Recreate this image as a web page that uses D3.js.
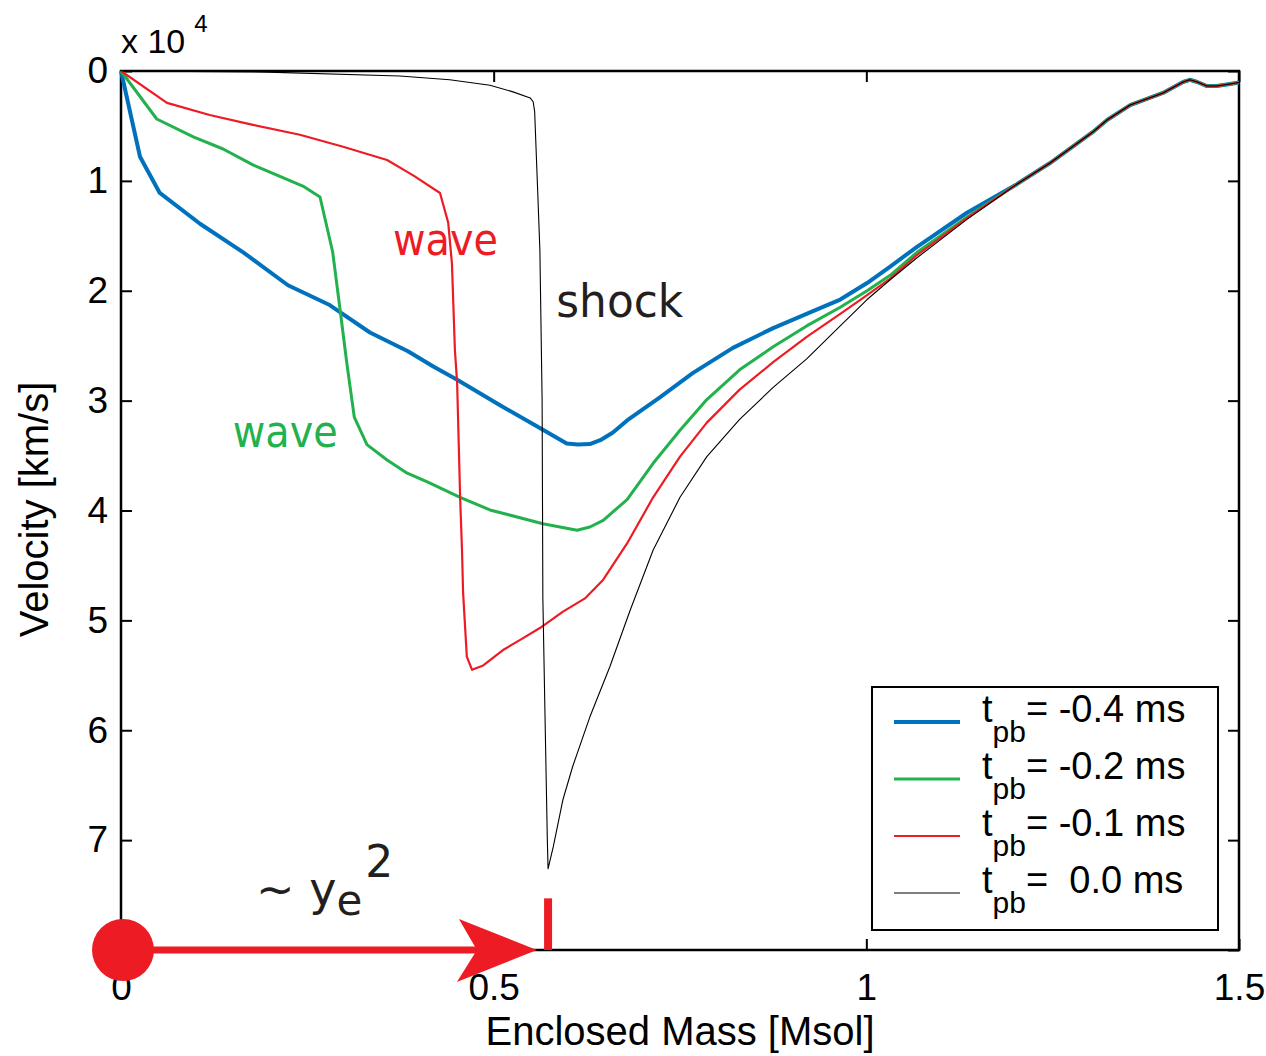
<!DOCTYPE html>
<html>
<head>
<meta charset="utf-8">
<script src="https://cdn.jsdelivr.net/npm/d3@7"></script>
<style>
  body { margin: 0; background: #fff; }
  text { font-family: "Liberation Sans", Arial, sans-serif; }
  .hand { font-family: "Comic Sans MS", "DejaVu Sans", sans-serif; }
</style>
</head>
<body>
<div id="chart"></div>
<script>
// velocity profiles, x = enclosed mass [Msol], y = -velocity [1e4 km/s]
const blueCurve = [[0,0],[0.0255,0.78],[0.052,1.11],[0.106,1.39],[0.164,1.65],[0.224,1.95],[0.280,2.13],
  [0.334,2.38],[0.385,2.55],[0.419,2.69],[0.451,2.81],[0.508,3.04],[0.562,3.25],[0.598,3.39],[0.613,3.40],
  [0.629,3.395],[0.643,3.36],[0.660,3.29],[0.679,3.18],[0.723,2.97],[0.767,2.75],[0.821,2.52],[0.875,2.34],
  [0.934,2.17],[0.965,2.08],[1.001,1.93],[1.032,1.78],[1.068,1.60],[1.135,1.29]];
const greenCurve = [[0,0],[0.048,0.437],[0.097,0.60],[0.137,0.71],[0.177,0.855],[0.244,1.047],[0.267,1.147],
  [0.284,1.647],[0.294,2.175],[0.303,2.66],[0.313,3.15],[0.330,3.40],[0.357,3.54],[0.384,3.66],[0.411,3.74],
  [0.455,3.88],[0.495,3.995],[0.566,4.12],[0.612,4.18],[0.629,4.15],[0.647,4.09],[0.679,3.90],[0.714,3.57],
  [0.750,3.27],[0.786,2.99],[0.830,2.72],[0.875,2.51],[0.920,2.32],[0.965,2.15],[1.001,2.00],[1.032,1.86],
  [1.068,1.65],[1.135,1.33]];
const redCurve = [[0,0],[0.0617,0.29],[0.119,0.40],[0.177,0.49],[0.240,0.58],[0.298,0.69],[0.357,0.81],
  [0.392,0.95],[0.428,1.11],[0.439,1.38],[0.444,1.75],[0.448,2.54],[0.451,2.84],[0.455,3.88],[0.4575,4.36],
  [0.459,4.75],[0.464,5.33],[0.471,5.45],[0.486,5.41],[0.5125,5.27],[0.535,5.18],[0.562,5.07],[0.593,4.92],
  [0.6225,4.80],[0.647,4.63],[0.679,4.30],[0.714,3.88],[0.750,3.51],[0.786,3.20],[0.830,2.90],[0.875,2.65],
  [0.920,2.42],[0.965,2.21],[1.001,2.04],[1.032,1.89],[1.068,1.675],[1.135,1.34]];
const blackCurve = [[0,0],[0.196,0.01],[0.374,0.045],[0.441,0.08],[0.495,0.13],[0.526,0.19],[0.549,0.245],
  [0.553,0.28],[0.555,0.37],[0.559,1.08],[0.562,1.63],[0.565,2.99],[0.566,4.80],[0.569,5.91],[0.572,7.00],
  [0.573,7.26],[0.580,7.06],[0.593,6.63],[0.606,6.33],[0.629,5.88],[0.656,5.42],[0.683,4.91],[0.714,4.36],
  [0.750,3.88],[0.786,3.51],[0.830,3.17],[0.875,2.88],[0.920,2.62],[0.965,2.32],[1.001,2.08],[1.032,1.90],
  [1.068,1.70],[1.135,1.35]];
// outer layers, where all four profiles coincide
const outerTail = [[1.202,1.03],[1.246,0.84],[1.304,0.555],[1.323,0.446],[1.354,0.31],[1.398,0.20],
  [1.425,0.10],[1.434,0.08],[1.444,0.10],[1.457,0.137],[1.470,0.137],[1.488,0.118],[1.5,0.105]];

const seriesNames = ["-0.4", "-0.2", "-0.1", " 0.0"];
const xTicks = [0, 0.5, 1, 1.5];
const yTicks = [0, 1, 2, 3, 4, 5, 6, 7, 8];
const shockMass = 0.573;   // red marker on the axis
const arrowTipMass = 0.558;

const w = 1266, h = 1056;
const margin = {top: 71, right: 27, bottom: 106, left: 121};

const svg = d3.select("#chart")
  .append("svg")
  .attr("width", w)
  .attr("height", h);

const x = d3.scaleLinear().domain([0, 1.5]).range([margin.left, w - margin.right]);
const y = d3.scaleLinear().domain([0, 8]).range([margin.top, h - margin.bottom]);

// axes, MATLAB style ticks pointing inward
const fmt = d => String(d);
svg.append("g")
  .attr("transform", "translate(" + x(0) + ",0)")
  .call(d3.axisLeft(y).tickValues(yTicks).tickSize(-11).tickPadding(13)
    .tickFormat(d => d === 8 ? "" : String(d)))   // the 8 sits under the red dot
  .call(g => g.select(".domain").remove());
svg.append("g")
  .attr("transform", "translate(" + x(1.5) + ",0)")
  .call(d3.axisRight(y).tickValues(yTicks).tickSize(-11).tickFormat(""))
  .call(g => g.select(".domain").remove());
svg.append("g")
  .attr("transform", "translate(0," + y(8) + ")")
  .call(d3.axisBottom(x).tickValues(xTicks).tickSize(-11).tickPadding(24).tickFormat(fmt))
  .call(g => g.select(".domain").remove());
svg.append("g")
  .attr("transform", "translate(0," + y(0) + ")")
  .call(d3.axisTop(x).tickValues(xTicks).tickSize(-11).tickFormat(""))
  .call(g => g.select(".domain").remove());

svg.selectAll(".tick line").attr("stroke", "#000").attr("stroke-width", 2);
svg.selectAll(".tick text").attr("font-size", 37).attr("fill", "#000")
  .style("font-family", "'Liberation Sans', Arial, sans-serif");

svg.append("rect")
  .attr("x", x(0)).attr("y", y(0))
  .attr("width", x(1.5) - x(0)).attr("height", y(8) - y(0))
  .attr("fill", "none").attr("stroke", "#000").attr("stroke-width", 2.5);

// exponent label
const ex = svg.append("text").attr("x", 121).attr("y", 53).attr("font-size", 34).text("x 10");
ex.append("tspan").attr("dx", 9).attr("dy", -21).attr("font-size", 24).text("4");

svg.append("text")
  .attr("x", (x(0) + x(1.5)) / 2).attr("y", 1045)
  .attr("text-anchor", "middle").attr("font-size", 40)
  .text("Enclosed Mass [Msol]");
svg.append("text")
  .attr("transform", "translate(48," + (y(4) - 1) + ") rotate(-90)")
  .attr("text-anchor", "middle").attr("font-size", 40)
  .text("Velocity [km/s]");

// curves
const line = d3.line().x(d => x(d[0])).y(d => y(d[1]));
const series = [
  {data: blueCurve.concat(outerTail), color: "#0072BD", width: 4},
  {data: greenCurve.concat(outerTail), color: "#22B14C", width: 3},
  {data: redCurve.concat(outerTail), color: "#ED1C24", width: 2.2},
  {data: blackCurve.concat(outerTail), color: "#000000", width: 1.1}
];

svg.selectAll("path.curve")
  .data(series)
  .enter()
  .append("path")
  .attr("class", "curve")
  .attr("d", d => line(d.data))
  .attr("fill", "none")
  .attr("stroke", d => d.color)
  .attr("stroke-width", d => d.width)
  .attr("stroke-linejoin", "round");

// hand-written annotations
svg.append("text").attr("class", "hand")
  .attr("x", x(0.365)).attr("y", y(1.675))
  .attr("font-size", 44).attr("fill", "#ED1C24")
  .attr("textLength", 105).attr("lengthAdjust", "spacingAndGlyphs")
  .text("wave");
svg.append("text").attr("class", "hand")
  .attr("x", x(0.150)).attr("y", y(3.42))
  .attr("font-size", 44).attr("fill", "#22B14C")
  .attr("textLength", 105).attr("lengthAdjust", "spacingAndGlyphs")
  .text("wave");
svg.append("text").attr("class", "hand")
  .attr("x", x(0.584)).attr("y", y(2.24))
  .attr("font-size", 46).attr("fill", "#231F20")
  .attr("textLength", 127).attr("lengthAdjust", "spacingAndGlyphs")
  .text("shock");

const ye = svg.append("text").attr("class", "hand")
  .attr("x", 256).attr("y", 905)
  .attr("font-size", 46).attr("fill", "#231F20")
  .style("white-space", "pre");
ye.append("tspan").text("~ y");
ye.append("tspan").attr("dy", 10).attr("font-size", 42).text("e");
ye.append("tspan").attr("dx", 3).attr("dy", -38).attr("font-size", 44).text("2");

// red arrow from the centre to the shock formation point
const tipX = x(arrowTipMass), baseY = y(8);
svg.append("line")
  .attr("x1", x(0)).attr("x2", tipX - 60)
  .attr("y1", baseY).attr("y2", baseY)
  .attr("stroke", "#ED1C24").attr("stroke-width", 7);
svg.append("path")
  .attr("d", "M" + tipX + "," + baseY +
    "L" + (tipX - 78) + "," + (baseY - 31) +
    "L" + (tipX - 60) + "," + baseY +
    "L" + (tipX - 80) + "," + (baseY + 32) + "Z")
  .attr("fill", "#ED1C24");
svg.append("circle")
  .attr("cx", x(0) + 2).attr("cy", baseY).attr("r", 31)
  .attr("fill", "#ED1C24");
svg.append("line")
  .attr("x1", x(shockMass)).attr("x2", x(shockMass))
  .attr("y1", y(7.53)).attr("y2", baseY)
  .attr("stroke", "#ED1C24").attr("stroke-width", 8);

// legend
const lg = svg.append("g").attr("transform", "translate(872,687)");
lg.append("rect")
  .attr("width", 346).attr("height", 243)
  .attr("fill", "#fff").attr("stroke", "#000").attr("stroke-width", 2);
const rows = lg.selectAll("g.row")
  .data(series)
  .enter()
  .append("g")
  .attr("class", "row")
  .attr("transform", (d, i) => "translate(0," + (35 + i * 57) + ")");
rows.append("line")
  .attr("x1", 22).attr("x2", 88)
  .attr("stroke", d => d.color)
  .attr("stroke-width", d => d.width);
const lt = rows.append("text")
  .attr("x", 110).attr("y", 0)
  .attr("font-size", 38)
  .style("white-space", "pre");
lt.append("tspan").text("t");
lt.append("tspan").attr("dy", 20).attr("font-size", 30).text("pb");
lt.append("tspan").attr("dy", -20).text((d, i) => "= " + seriesNames[i] + " ms");
</script>
</body>
</html>
